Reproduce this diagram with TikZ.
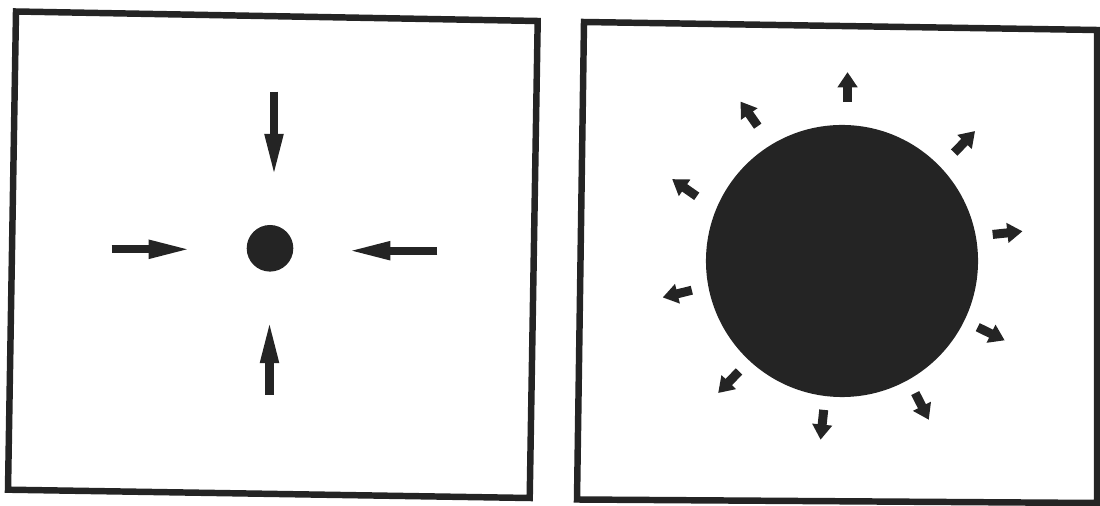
\documentclass[tikz,border=0pt]{standalone}
\usepackage{tikz}
\usetikzlibrary{arrows.meta,calc}
\definecolor{ink}{gray}{0.14}

\begin{document}
\begin{tikzpicture}[x=0.025cm, y=0.025cm,
    frame/.style={draw=ink, line width=4.6pt, line join=miter},
    blob/.style={circle, fill=ink, inner sep=0pt, outer sep=0pt},
    pull/.style={draw=ink, line width=5.7pt, -{Triangle[length=1.075cm, width=0.42cm]}},
    push/.style={draw=ink, line width=6.4pt, -{Triangle[length=0.38cm, width=0.48cm]}}]
  \useasboundingbox (0,0) rectangle (1100,506);
  \draw[frame] (16,494.5) -- (537.7,485) -- (529.7,8) -- (8,16.3) -- cycle;
  \draw[frame] (584,484) -- (1097,476) -- (1097,3) -- (577,6.5) -- cycle;

  \node[blob, minimum size=1.165cm] (core) at (270,257.7) {};
  \coordinate (n0) at (274,414.3);
  \coordinate (n1) at (274,329);
  \coordinate (s0) at (269.5,111);
  \coordinate (s1) at (269.5,186);
  \coordinate (w0) at (111.7,256.7);
  \coordinate (w1) at (191.7,256.7);
  \coordinate (e0) at (437.3,255.3);
  \coordinate (e1) at (347.3,255.3);
  \draw[pull] (n0) -- (n1);
  \draw[pull] (s0) -- (s1);
  \draw[pull] (w0) -- (w1);
  \draw[pull] (e0) -- (e1);

  \node[blob, minimum size=6.8cm] (sun) at (842,245) {};
  \foreach \i/\p/\r/\d in {1/88/159/90, 2/122/159/125, 3/44/156/46, 4/156/159/145,
      5/10/153/6, 6/191/153/194, 7/-26/151/-26, 8/227/151/226, 9/-61/151/-63,
      10/-97/150/-96} {
    \coordinate (t\i) at ($(sun)+(\p:\r)$);
    \coordinate (h\i) at ($(t\i)+(\d:30)$);
    \draw[push] (t\i) -- (h\i);
  }
\end{tikzpicture}
\end{document}
